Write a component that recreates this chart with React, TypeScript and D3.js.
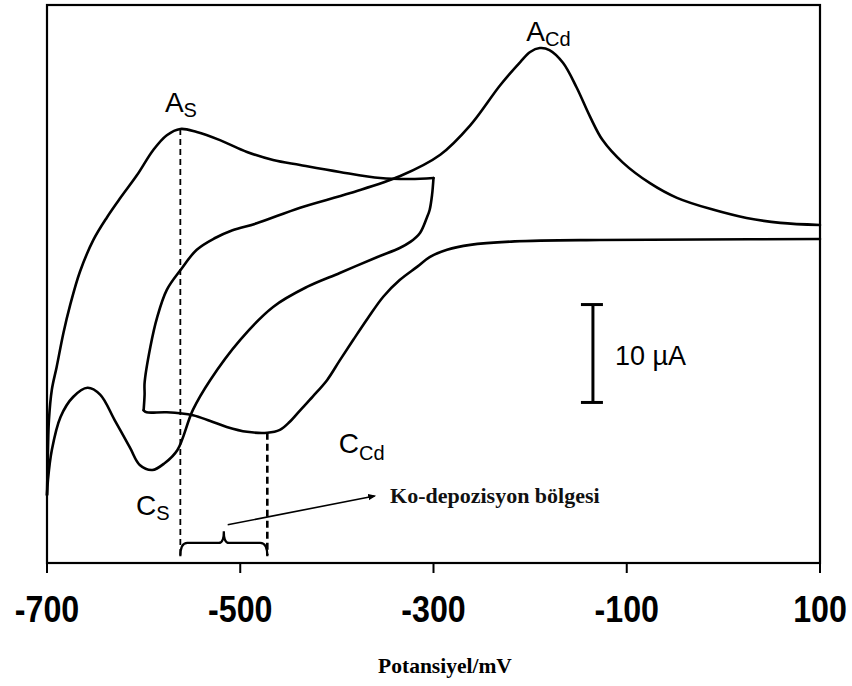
import React from "react";
import * as d3 from "d3";

// Potential (mV) and current (µA) read along each sweep of the two voltammograms.

// Cd voltammogram: cathodic sweep, +100 → -600 mV
const cdCathodicE = [100, -24, -128, -216, -262, -286, -304, -317, -335, -352, -368, -383, -397, -410, -425, -438, -449, -459, -472, -493, -514, -531, -549, -576, -597, -600];
const cdCathodicI = [0.1, 0.05, 0, -0.15, -0.5, -1.0, -1.75, -2.75, -4.1, -5.8, -8.0, -10.2, -12.3, -14.3, -16.0, -17.4, -18.6, -19.4, -19.7, -19.6, -19.1, -18.5, -17.9, -17.6, -17.6, -17.4];

// Cd voltammogram: anodic sweep, -600 → +100 mV
const cdAnodicE = [-600, -599, -599, -593, -586, -576, -562, -545, -526, -508, -483, -438, -386, -335, -293, -262, -231, -210, -200, -190, -180, -166, -152, -138, -125, -104, -76, -48, -11, 24, 59, 100];
const cdAnodicI = [-17.4, -15.8, -14.6, -10.9, -7.9, -5.1, -3.1, -1.0, 0.2, 1.0, 1.7, 3.3, 4.8, 6.5, 8.7, 11.7, 15.8, 18.2, 19.2, 19.6, 19.4, 18.1, 15.6, 12.6, 10.2, 7.9, 5.8, 4.3, 3.1, 2.25, 1.74, 1.53];

// S voltammogram: cathodic sweep, -300 → -700 mV
const sCathodicE = [-300, -301.5, -304, -307, -314, -324, -335, -358, -397, -431, -466, -500, -531, -549, -565, -578, -591, -604, -614, -630, -645, -658, -673, -686, -695, -699, -700];
const sCathodicI = [6.33, 4.6, 3.06, 2.25, 0.72, -0.2, -0.82, -1.74, -3.37, -4.8, -6.84, -10.2, -14.3, -17.36, -21.45, -22.78, -23.5, -22.98, -21.25, -18.4, -15.8, -15.1, -16.04, -18.08, -21.45, -24.5, -26.05];

// S voltammogram: anodic sweep, -700 → -300 mV
const sAnodicE = [-700, -699, -698, -695, -690, -683, -676, -666, -652, -638, -624, -607, -590, -576, -562, -545, -521, -493, -466, -438, -397, -355, -324, -300];
const sAnodicI = [-26.05, -21.45, -18.4, -15.3, -12.97, -9.5, -6.64, -3.27, 0, 2.3, 4.3, 6.6, 9.19, 10.7, 11.34, 11.03, 10.2, 8.99, 8.17, 7.66, 6.95, 6.33, 6.23, 6.33];

// Axis ticks (mV)
const xTicks = [-700, -500, -300, -100, 100];

// Peak potentials marked with dashed drop lines (mV)
const peakAsE = -562;
const peakAsI = 11.34;
const peakCcdE = -472;
const peakCcdI = -19.7;

// Scale bar (µA)
const scaleBarE = -135;
const scaleBarTop = -6.6;
const scaleBarBottom = -16.6;

const W = 852;
const H = 686;
const plot = { left: 47, right: 820, top: 5, bottom: 563 };

const FONT_SANS = "Arial, 'Liberation Sans', Helvetica, sans-serif";
const FONT_SERIF = "'Times New Roman', 'Liberation Serif', Times, serif";

const x = d3.scaleLinear().domain([-700, 100]).range([plot.left, plot.right]);
const y = d3.scaleLinear().domain([-33, 24]).range([plot.bottom, plot.top]);

const line = d3
  .line<[number, number]>()
  .x((d) => x(d[0]))
  .y((d) => y(d[1]))
  .curve(d3.curveCatmullRom.alpha(0.5));

const zip = (a: number[], b: number[]): [number, number][] => a.map((v, i) => [v, b[i]]);

const sweeps = [
  zip(cdCathodicE, cdCathodicI),
  zip(cdAnodicE, cdAnodicI),
  zip(sCathodicE, sCathodicI),
  zip(sAnodicE, sAnodicI),
];

// Peak labels: main letter + subscript, placed in data coordinates
const peakLabels = [
  { main: "A", sub: "S", e: -578, i: 13.1, dy: 5 },
  { main: "A", sub: "Cd", e: -204, i: 20.3, dy: 5 },
  { main: "C", sub: "Cd", e: -398, i: -21.8, dy: 7 },
  { main: "C", sub: "S", e: -608, i: -28.1, dy: 5 },
];

function Brace({ e0, e1, iTop, iEnd, iCusp }: { e0: number; e1: number; iTop: number; iEnd: number; iCusp: number }) {
  const x0 = x(e0);
  const x1 = x(e1);
  const xm = (x0 + x1) / 2;
  const yt = y(iTop);
  const ye = y(iEnd);
  const yc = y(iCusp);
  const d = [
    `M${x0},${ye}`,
    `Q${x0},${yt} ${x0 + 7},${yt}`,
    `L${xm - 5},${yt}`,
    `Q${xm},${yt} ${xm},${yc}`,
    `Q${xm},${yt} ${xm + 5},${yt}`,
    `L${x1 - 7},${yt}`,
    `Q${x1},${yt} ${x1},${ye}`,
  ].join(" ");
  return <path d={d} fill="none" stroke="#000" strokeWidth={2.2} />;
}

export default function App() {
  const arrowStart: [number, number] = [-513, -29.1];
  const arrowEnd: [number, number] = [-361, -26.15];

  return (
    <svg
      width={W}
      height={H}
      viewBox={`0 0 ${W} ${H}`}
      style={{ position: "absolute", left: 0, top: 0, background: "#fff" }}
    >
      <defs>
        <marker id="arrowHead" viewBox="0 0 10 10" refX="8" refY="5" markerWidth="5" markerHeight="5" orient="auto">
          <path d="M0,1 L10,5 L0,9 Z" fill="#000" />
        </marker>
      </defs>

      {/* frame */}
      <rect
        x={plot.left}
        y={plot.top}
        width={plot.right - plot.left}
        height={plot.bottom - plot.top}
        fill="none"
        stroke="#000"
        strokeWidth={2.2}
      />

      {/* x ticks and labels (condensed bold numerals) */}
      {xTicks.map((t) => (
        <g key={t}>
          <line x1={x(t)} x2={x(t)} y1={plot.bottom} y2={plot.bottom + 10} stroke="#000" strokeWidth={2} />
          <text
            transform={`translate(${x(t)},622) scale(0.87,1)`}
            textAnchor="middle"
            fontFamily={FONT_SANS}
            fontWeight="bold"
            fontSize={37}
            fill="#000"
          >
            {t}
          </text>
        </g>
      ))}

      <text x={445} y={673} textAnchor="middle" fontFamily={FONT_SERIF} fontWeight="bold" fontSize={21.5} fill="#000">
        Potansiyel/mV
      </text>

      {/* dashed drop lines at peak potentials */}
      <line x1={x(peakAsE)} x2={x(peakAsE)} y1={y(peakAsI)} y2={y(-32.2)} stroke="#000" strokeWidth={1.8} strokeDasharray="6,4" />
      <line x1={x(peakCcdE)} x2={x(peakCcdE)} y1={y(peakCcdI)} y2={y(-32.2)} stroke="#000" strokeWidth={2.6} strokeDasharray="7,4" />

      {/* voltammograms */}
      {sweeps.map((pts, k) => (
        <path key={k} d={line(pts) ?? ""} fill="none" stroke="#000" strokeWidth={2.6} strokeLinejoin="round" strokeLinecap="round" />
      ))}

      {/* co-deposition region */}
      <Brace e0={peakAsE} e1={peakCcdE} iTop={-30.95} iEnd={-32.3} iCusp={-29.75} />
      <line
        x1={x(arrowStart[0])}
        y1={y(arrowStart[1])}
        x2={x(arrowEnd[0])}
        y2={y(arrowEnd[1])}
        stroke="#000"
        strokeWidth={1.6}
        markerEnd="url(#arrowHead)"
      />
      <text x={x(-345)} y={y(-26.9)} fontFamily={FONT_SERIF} fontWeight="bold" fontSize={22} fill="#111">
        Ko-depozisyon bölgesi
      </text>

      {/* peak labels */}
      {peakLabels.map((p, k) => (
        <text key={k} x={x(p.e)} y={y(p.i)} fontFamily={FONT_SANS} fontSize={28} fill="#000">
          {p.main}
          <tspan fontSize={20} dy={p.dy}>
            {p.sub}
          </tspan>
        </text>
      ))}

      {/* 10 µA scale bar */}
      <line x1={x(scaleBarE)} x2={x(scaleBarE)} y1={y(scaleBarTop)} y2={y(scaleBarBottom)} stroke="#000" strokeWidth={3} />
      <line x1={x(scaleBarE) - 12} x2={x(scaleBarE) + 10} y1={y(scaleBarTop)} y2={y(scaleBarTop)} stroke="#000" strokeWidth={3} />
      <line x1={x(scaleBarE) - 12} x2={x(scaleBarE) + 10} y1={y(scaleBarBottom)} y2={y(scaleBarBottom)} stroke="#000" strokeWidth={3} />
      <text x={x(scaleBarE) + 22} y={y(-12.8)} fontFamily={FONT_SANS} fontSize={27} fill="#000">
        10 µA
      </text>
    </svg>
  );
}
